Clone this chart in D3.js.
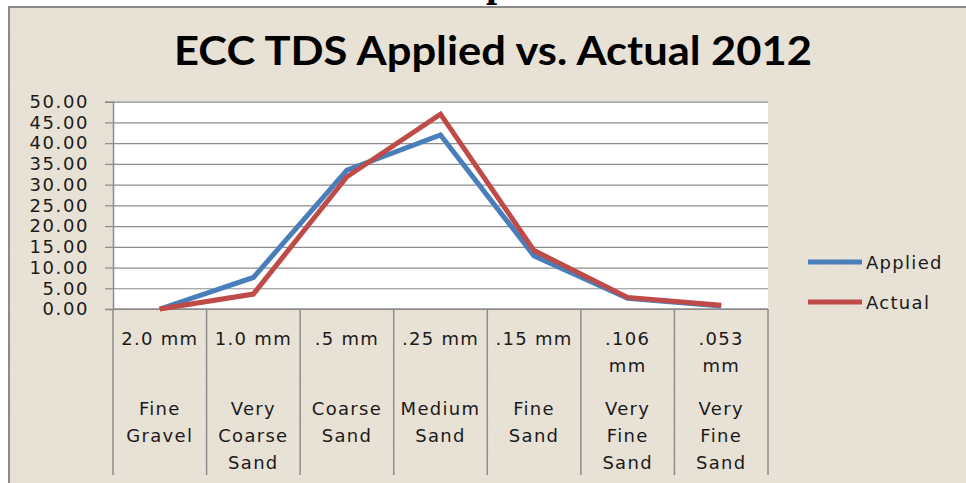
<!DOCTYPE html>
<html>
<head>
<meta charset="utf-8">
<script src="https://cdn.jsdelivr.net/npm/d3@7"></script>
<style>
  body { margin: 0; background: #fff; }
  svg { display: block; }
</style>
</head>
<body>
<div id="chart"></div>
<script>
// data
var sizes = ['2.0 mm', '1.0 mm', '.5 mm', '.25 mm', '.15 mm', '.106 mm', '.053 mm']
var sizeLines = [['2.0 mm'], ['1.0 mm'], ['.5 mm'], ['.25 mm'], ['.15 mm'], ['.106', 'mm'], ['.053', 'mm']]
var names = [['Fine', 'Gravel'], ['Very', 'Coarse', 'Sand'], ['Coarse', 'Sand'], ['Medium', 'Sand'], ['Fine', 'Sand'], ['Very', 'Fine', 'Sand'], ['Very', 'Fine', 'Sand']]
var applied = [0, 7.6, 33.5, 42.0, 12.8, 2.6, 0.7]
var actual = [0, 3.6, 31.9, 47.0, 14.1, 2.8, 0.9]
var seriesNames = ['Applied', 'Actual']
var yTicks = [0, 5, 10, 15, 20, 25, 30, 35, 40, 45, 50]

var width = 966
var height = 483
var margin = { top: 101.7, left: 113, right: 198, bottom: 174 }
var colors = { Applied: '#4a7ebb', Actual: '#be4b48' }

var svg = d3.select('#chart')
  .append('svg')
  .attr('width', width)
  .attr('height', height)

// paper texture
var defs = svg.append('defs')
var filt = defs.append('filter').attr('id', 'paper').attr('x', 0).attr('y', 0).attr('width', '100%').attr('height', '100%')
filt.append('feTurbulence').attr('type', 'fractalNoise').attr('baseFrequency', 0.35).attr('numOctaves', 2).attr('seed', 4).attr('result', 'noise')
filt.append('feColorMatrix').attr('in', 'noise').attr('type', 'matrix')
  .attr('values', '0 0 0 0 0.80  0 0 0 0 0.76  0 0 0 0 0.68  0 0 0 -1.8 1.0')

svg.append('rect')
  .attr('x', 9).attr('y', 7)
  .attr('width', width).attr('height', height)
  .attr('fill', '#e8e1d5')
  .attr('stroke', '#8a8a8a')
  .attr('stroke-width', 2)
svg.append('rect')
  .attr('x', 10).attr('y', 8)
  .attr('width', width).attr('height', height)
  .attr('filter', 'url(#paper)')
  .attr('opacity', 0.6)

// bit of page text peeking in above the chart
svg.append('text')
  .attr('x', 497).attr('y', -4)
  .attr('text-anchor', 'middle')
  .style('font-family', 'Liberation Serif')
  .style('font-weight', 'bold')
  .style('font-size', '40px')
  .text('p')

svg.append('text')
  .attr('x', 493)
  .attr('y', 65)
  .attr('text-anchor', 'middle')
  .style('font-family', 'Lato')
  .style('font-weight', 'bold')
  .style('font-size', '40px')
  .attr('textLength', 638)
  .attr('lengthAdjust', 'spacingAndGlyphs')
  .attr('fill', '#000')
  .text('ECC TDS Applied vs. Actual 2012')

var x = d3.scaleBand()
  .domain(sizes)
  .range([margin.left, width - margin.right])

var y = d3.scaleLinear()
  .domain([0, 50])
  .range([height - margin.bottom, margin.top])

// plot area
svg.append('rect')
  .attr('x', x.range()[0])
  .attr('y', y(50))
  .attr('width', x.range()[1] - x.range()[0])
  .attr('height', y(0) - y(50))
  .attr('fill', '#fff')

// gridlines
svg.append('g')
  .attr('class', 'grid')
  .attr('transform', `translate(${x.range()[0]},0)`)
  .call(d3.axisLeft(y).tickValues(yTicks).tickSize(-(x.range()[1] - x.range()[0])).tickFormat(''))
  .call(g => g.select('.domain').remove())
  .selectAll('line')
  .attr('stroke', '#8c8c8c')
  .attr('stroke-width', 1.2)

// y axis
var yAxis = svg.append('g')
  .attr('transform', `translate(${x.range()[0]},0)`)
  .call(d3.axisLeft(y).tickValues(yTicks).tickSize(8).tickPadding(16).tickFormat(d3.format('.2f')))
yAxis.select('.domain').attr('stroke', '#8c8c8c').attr('stroke-width', 1.5)
yAxis.selectAll('.tick line').attr('stroke', '#8c8c8c').attr('stroke-width', 1.2)
yAxis.selectAll('.tick text')
  .attr('fill', '#1a1a1a')
  .style('font-family', 'DejaVu Sans')
  .style('font-size', '18px')
  .style('letter-spacing', '1.6px')

// x axis line and category dividers
svg.append('line')
  .attr('x1', x.range()[0]).attr('x2', x.range()[1])
  .attr('y1', y(0)).attr('y2', y(0))
  .attr('stroke', '#8c8c8c').attr('stroke-width', 1.5)

var bounds = sizes.map(d => x(d)).concat([x.range()[1]])
svg.append('g')
  .selectAll('line')
  .data(bounds)
  .enter()
  .append('line')
  .attr('x1', d => d).attr('x2', d => d)
  .attr('y1', y(0)).attr('y2', 475)
  .attr('stroke', '#8c8c8c')
  .attr('stroke-width', 1.5)

var xLabels = svg.append('g')
  .selectAll('g')
  .data(sizes)
  .enter()
  .append('g')
  .attr('transform', d => `translate(${x(d) + x.bandwidth() / 2},0)`)
  .style('font-family', 'DejaVu Sans')
  .style('font-size', '18px')
  .style('letter-spacing', '1.3px')
  .attr('fill', '#1a1a1a')
  .attr('text-anchor', 'middle')

xLabels.each(function(d, i) {
  var g = d3.select(this)
  sizeLines[i].forEach((t, j) => {
    g.append('text').attr('y', 345 + j * 26.7).text(t)
  })
  names[i].forEach((t, j) => {
    g.append('text').attr('y', 415 + j * 27).text(t)
  })
})

// lines
var series = [
  { name: 'Applied', values: applied },
  { name: 'Actual', values: actual }
]

var line = d3.line()
  .x((d, i) => x(sizes[i]) + x.bandwidth() / 2)
  .y(d => y(d))

svg.selectAll('.series')
  .data(series)
  .enter()
  .append('path')
  .attr('class', 'series')
  .attr('d', d => line(d.values))
  .attr('fill', 'none')
  .attr('stroke', d => colors[d.name])
  .attr('stroke-width', 5)
  .attr('stroke-linejoin', 'miter')

// legend
var legend = svg.append('g')
  .selectAll('g')
  .data(seriesNames)
  .enter()
  .append('g')
  .attr('transform', (d, i) => `translate(808,${262 + i * 40})`)

legend.append('line')
  .attr('x1', 0).attr('x2', 54)
  .attr('stroke', d => colors[d])
  .attr('stroke-width', 5)

legend.append('text')
  .attr('x', 58)
  .attr('y', 7)
  .style('font-family', 'DejaVu Sans')
  .style('font-size', '18px')
  .style('letter-spacing', '1.3px')
  .attr('fill', '#1a1a1a')
  .text(d => d)
</script>
</body>
</html>
